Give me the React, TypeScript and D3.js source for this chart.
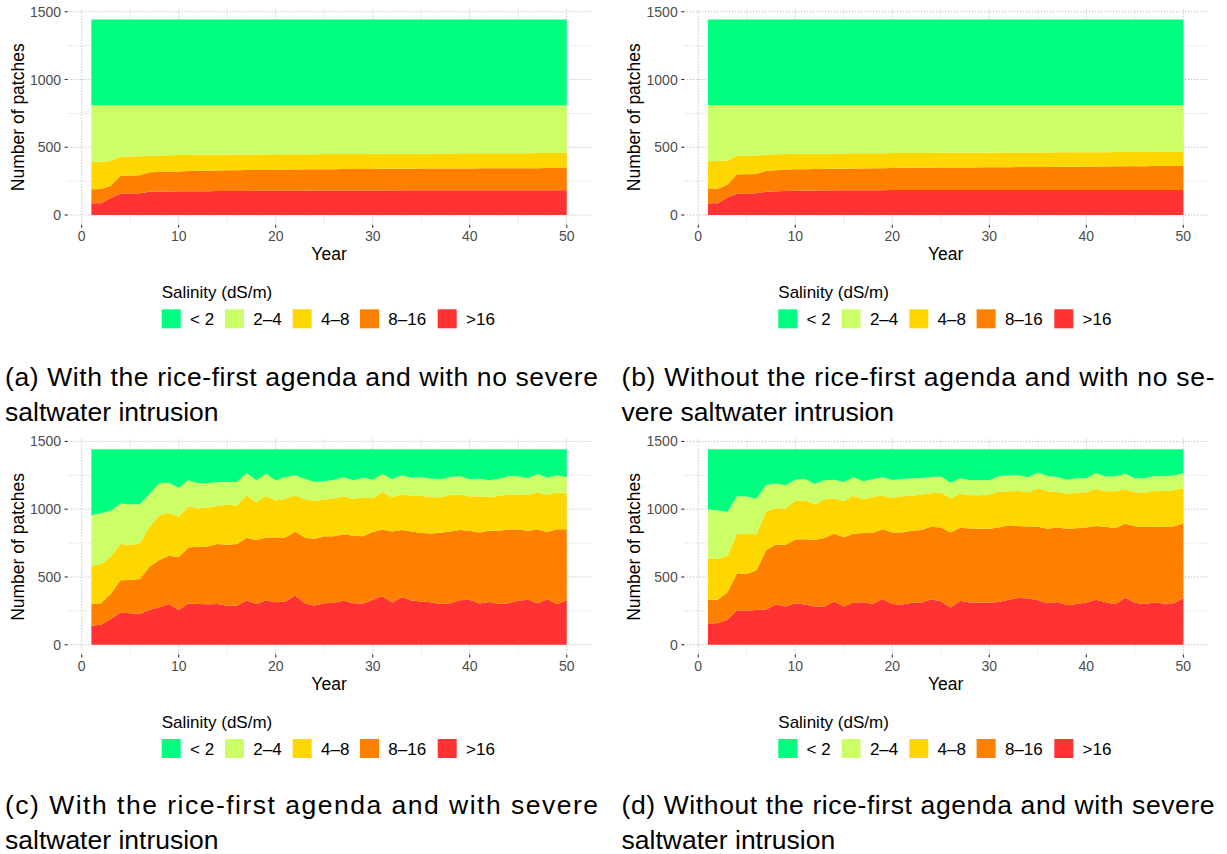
import React from "react";
import * as d3 from "d3";

// Salinity classes, bottom of the stack first
const CLASS_KEYS = ["gt16", "c8_16", "c4_8", "c2_4", "lt2"];
const CLASS_LABELS = ["< 2", "2–4", "4–8", "8–16", ">16"]; // legend order
const CLASS_COLORS: Record<string, string> = {
  lt2: "#00FF7F",
  c2_4: "#CCFF66",
  c4_8: "#FFD700",
  c8_16: "#FF7F00",
  gt16: "#FF3333",
};
const LEGEND_KEYS = ["lt2", "c2_4", "c4_8", "c8_16", "gt16"];

const YEARS = [
  1, 2, 3, 4, 5, 6, 7, 8, 9, 10, 11, 12, 13, 14, 15, 16, 17, 18, 19, 20, 21, 22, 23, 24, 25,
  26, 27, 28, 29, 30, 31, 32, 33, 34, 35, 36, 37, 38, 39, 40, 41, 42, 43, 44, 45, 46, 47, 48, 49, 50,
];

const X_TICKS = [0, 10, 20, 30, 40, 50];
const X_MINOR = [5, 15, 25, 35, 45];
const Y_TICKS = [0, 500, 1000, 1500];
const Y_MINOR = [250, 750, 1250];

// (a) rice-first agenda, no severe intrusion
const A_GT16 = [86,86,125,157,158,160,172,173,174,175,175,176,176,177,177,178,178,179,179,180,180,180,180,181,181,181,181,181,181,181,181,181,182,182,182,182,182,182,182,182,182,182,182,182,182,182,182,182,182,182];
const A_8_16 = [104,106,91,133,133,133,144,145,146,147,149,150,151,152,153,153,154,154,155,155,156,156,157,156,157,157,158,158,159,159,160,160,160,160,161,161,161,162,162,162,163,163,163,164,164,164,164,165,165,165];
const A_4_8 = [203,202,182,140,141,141,122,122,121,121,119,118,117,116,115,115,114,114,113,113,112,113,112,112,112,112,111,112,111,112,111,111,111,111,110,111,111,110,111,111,110,110,111,110,110,110,111,110,110,110];
const A_2_4 = [417,416,412,380,378,376,372,370,369,367,367,366,366,365,365,364,364,363,363,362,362,361,361,361,360,360,360,359,359,358,358,358,357,357,357,356,356,356,355,355,355,355,354,354,354,354,353,353,353,353];
const A_LT2 = [633,633,633,633,633,633,633,633,633,633,633,633,633,633,633,633,633,633,633,633,633,633,633,633,633,633,633,633,633,633,633,633,633,633,633,633,633,633,633,633,633,633,633,633,633,633,633,633,633,633];

// (b) no rice-first agenda, no severe intrusion
const B_GT16 = [86,86,130,157,158,160,172,175,177,180,180,181,181,182,182,182,183,183,183,184,184,184,184,184,184,184,184,184,184,184,184,184,184,184,184,184,184,184,184,184,185,185,185,185,185,185,185,185,185,185];
const B_8_16 = [106,107,94,143,143,142,155,155,157,157,158,158,159,159,160,161,161,162,163,163,164,164,165,165,166,166,167,167,168,168,169,169,170,170,171,171,172,172,173,173,173,173,174,174,175,175,176,176,177,177];
const B_4_8 = [204,205,179,138,138,138,118,118,116,115,114,114,113,113,112,112,111,111,110,110,109,110,109,109,109,109,108,109,108,108,108,108,107,108,107,107,107,107,106,107,106,106,106,106,105,106,105,105,105,105];
const B_2_4 = [415,413,408,373,372,371,366,363,361,359,359,358,358,357,357,356,356,355,355,354,354,353,353,353,352,352,352,351,351,351,350,350,350,349,349,349,348,348,348,347,347,347,346,346,346,345,345,345,344,344];
const B_LT2 = [632,632,632,632,632,632,632,632,632,632,632,632,632,632,632,632,632,632,632,632,632,632,632,632,632,632,632,632,632,632,632,632,632,632,632,632,632,632,632,632,632,632,632,632,632,632,632,632,632,632];

// (c) rice-first agenda, severe intrusion
const C_GT16 = [140,147,189,238,233,228,257,277,301,257,304,301,299,301,287,289,326,301,328,314,319,363,306,290,306,309,324,306,304,331,358,311,350,326,319,314,301,306,328,331,304,316,301,306,324,331,306,336,299,328];
const C_8_16 = [161,159,186,237,245,257,319,348,356,388,414,422,426,442,451,454,463,471,464,475,473,470,486,490,495,492,492,498,497,500,492,525,496,510,505,507,525,530,518,510,524,525,540,544,526,510,544,495,554,525];
const C_4_8 = [282,290,275,268,257,263,294,331,316,299,304,282,287,282,294,284,314,282,306,275,286,270,282,281,270,280,280,272,287,250,277,252,264,262,276,267,262,269,262,252,268,247,257,260,258,267,273,274,272,262];
const C_2_4 = [373,375,338,299,302,289,245,238,223,215,191,186,182,174,169,174,164,159,164,149,160,147,151,140,135,137,139,137,145,137,135,133,140,135,138,137,135,133,137,128,129,125,127,133,135,122,137,128,125,120];
const C_LT2 = [487,472,455,401,406,406,328,249,247,284,230,252,249,244,242,242,176,230,181,230,205,193,218,242,237,225,208,230,210,225,181,222,193,210,205,218,220,205,198,222,218,230,218,200,200,213,183,210,193,208];

// (d) no rice-first agenda, severe intrusion
const D_GT16 = [159,159,184,252,252,257,260,297,282,306,297,282,282,319,282,311,314,301,338,301,297,309,309,336,321,275,324,311,311,311,316,331,346,341,328,306,316,292,301,311,331,314,299,346,309,301,311,304,306,343];
const D_8_16 = [174,172,201,275,270,292,439,443,453,471,482,490,505,500,512,508,510,523,515,527,531,532,537,534,544,553,539,547,544,544,549,551,531,532,542,549,549,563,559,554,546,556,561,546,566,567,559,566,567,554];
const D_4_8 = [304,304,269,294,297,267,286,267,270,284,287,265,284,262,265,281,250,267,250,255,268,259,262,248,258,253,252,245,248,253,265,250,258,252,287,277,262,260,263,260,272,262,272,257,250,255,265,265,267,260];
const D_2_4 = [361,358,326,277,274,262,196,182,171,157,157,149,142,137,142,138,132,130,135,133,127,128,122,119,120,115,113,110,113,105,115,118,115,110,113,113,111,103,105,103,118,108,111,113,103,105,108,108,108,108];
const D_LT2 = [445,450,463,345,350,365,262,254,267,225,220,257,230,225,242,205,237,222,205,227,220,215,213,206,200,247,215,230,227,230,198,193,193,208,173,198,205,225,215,215,176,203,200,181,215,215,200,200,195,178];

type Series = { gt16: number[]; c8_16: number[]; c4_8: number[]; c2_4: number[]; lt2: number[] };

const PANELS: { series: Series; col: number; row: number; caption: [string, string] }[] = [
  {
    series: { gt16: A_GT16, c8_16: A_8_16, c4_8: A_4_8, c2_4: A_2_4, lt2: A_LT2 },
    col: 0,
    row: 0,
    caption: ["(a) With the rice-first agenda and with no severe", "saltwater intrusion"],
  },
  {
    series: { gt16: B_GT16, c8_16: B_8_16, c4_8: B_4_8, c2_4: B_2_4, lt2: B_LT2 },
    col: 1,
    row: 0,
    caption: ["(b) Without the rice-first agenda and with no se-", "vere saltwater intrusion"],
  },
  {
    series: { gt16: C_GT16, c8_16: C_8_16, c4_8: C_4_8, c2_4: C_2_4, lt2: C_LT2 },
    col: 0,
    row: 1,
    caption: ["(c) With the rice-first agenda and with severe", "saltwater intrusion"],
  },
  {
    series: { gt16: D_GT16, c8_16: D_8_16, c4_8: D_4_8, c2_4: D_2_4, lt2: D_LT2 },
    col: 1,
    row: 1,
    caption: ["(d) Without the rice-first agenda and with severe", "saltwater intrusion"],
  },
];

const FONT = "'Liberation Sans', Arial, Helvetica, sans-serif";
const COL_W = 616.6;
const ROW_H = 429.7;
// legend key offsets within a legend row
const LEGEND_X = [0, 63.3, 131, 198.3, 276];

function Panel({ series, col, row, caption }: { series: Series; col: number; row: number; caption: [string, string] }) {
  const ox = col * COL_W;
  const oy = row * ROW_H;
  const left = ox + 67.6;
  const right = ox + 590.5;
  const top = oy + 9.7;
  const bottom = oy + 224.8;

  const x = d3.scaleLinear().domain([-1.45, 52.45]).range([left, right]);
  const y = d3.scaleLinear().domain([-72.15, 1515.15]).range([bottom, top]);

  const rows = YEARS.map((yr, i) => {
    const r: any = { year: yr };
    CLASS_KEYS.forEach((k) => (r[k] = (series as any)[k][i]));
    return r;
  });
  const stacked = d3.stack<any>().keys(CLASS_KEYS)(rows);
  const area = d3
    .area<any>()
    .x((d) => x(d.data.year))
    .y0((d) => y(d[0]))
    .y1((d) => y(d[1]));

  const gridMajor = "#b0b0b0";
  const gridMinor = "#cccccc";

  return (
    <g>
      {/* grid */}
      {Y_MINOR.map((v) => (
        <line key={"ym" + v} x1={left} x2={right} y1={y(v)} y2={y(v)} stroke={gridMinor} strokeWidth={1} strokeDasharray="1 2" />
      ))}
      {X_MINOR.map((v) => (
        <line key={"xm" + v} x1={x(v)} x2={x(v)} y1={top} y2={bottom} stroke={gridMinor} strokeWidth={1} strokeDasharray="1 2" />
      ))}
      {Y_TICKS.map((v) => (
        <line key={"yM" + v} x1={left} x2={right} y1={y(v)} y2={y(v)} stroke={gridMajor} strokeWidth={1} strokeDasharray="1 2" />
      ))}
      {X_TICKS.map((v) => (
        <line key={"xM" + v} x1={x(v)} x2={x(v)} y1={top} y2={bottom} stroke={gridMajor} strokeWidth={1} strokeDasharray="1 2" />
      ))}

      {/* stacked areas */}
      {stacked.map((s) => (
        <path key={s.key} d={area(s) || ""} fill={CLASS_COLORS[s.key]} />
      ))}

      {/* axes */}
      {Y_TICKS.map((v) => (
        <g key={"yt" + v}>
          <line x1={left - 3} x2={left} y1={y(v)} y2={y(v)} stroke="#333" strokeWidth={1.1} />
          <text x={left - 6.5} y={y(v)} dy="0.36em" textAnchor="end" fontFamily={FONT} fontSize={14} fill="#4d4d4d">
            {v}
          </text>
        </g>
      ))}
      {X_TICKS.map((v) => (
        <g key={"xt" + v}>
          <line x1={x(v)} x2={x(v)} y1={bottom} y2={bottom + 3} stroke="#333" strokeWidth={1.1} />
          <text x={x(v)} y={oy + 241} textAnchor="middle" fontFamily={FONT} fontSize={14} fill="#4d4d4d">
            {v}
          </text>
        </g>
      ))}
      <text x={(left + right) / 2} y={oy + 260} textAnchor="middle" fontFamily={FONT} fontSize={17.5} fill="#000">
        Year
      </text>
      <text
        transform={`translate(${ox + 23.5},${(top + bottom) / 2}) rotate(-90)`}
        textAnchor="middle"
        fontFamily={FONT}
        fontSize={17.5}
        fill="#000"
      >
        Number of patches
      </text>

      {/* legend */}
      <g transform={`translate(${ox + 161.7},${oy})`}>
        <text x={0} y={298.3} fontFamily={FONT} fontSize={17} fill="#000">
          Salinity (dS/m)
        </text>
        {LEGEND_KEYS.map((k, i) => (
          <g key={k} transform={`translate(${LEGEND_X[i]},0)`}>
            <rect x={0} y={309.3} width={19} height={19} fill={CLASS_COLORS[k]} />
            <text x={28.3} y={325} fontFamily={FONT} fontSize={17} fill="#000">
              {CLASS_LABELS[i]}
            </text>
          </g>
        ))}
      </g>

      {/* caption */}
      <text
        x={ox + 5}
        y={row * 428 + 385.5}
        fontFamily={FONT}
        fontSize={26.5}
        fill="#000"
        textLength={593}
        lengthAdjust="spacing"
      >
        {caption[0]}
      </text>
      <text x={ox + 5} y={row * 428 + 420.5} fontFamily={FONT} fontSize={26.5} fill="#000">
        {caption[1]}
      </text>
    </g>
  );
}

export default function App() {
  return (
    <div style={{ position: "absolute", left: 0, top: 0 }}>
      <svg width={1227} height={854} style={{ display: "block", background: "#ffffff" }}>
        {PANELS.map((p, i) => (
          <Panel key={i} series={p.series} col={p.col} row={p.row} caption={p.caption} />
        ))}
      </svg>
    </div>
  );
}
